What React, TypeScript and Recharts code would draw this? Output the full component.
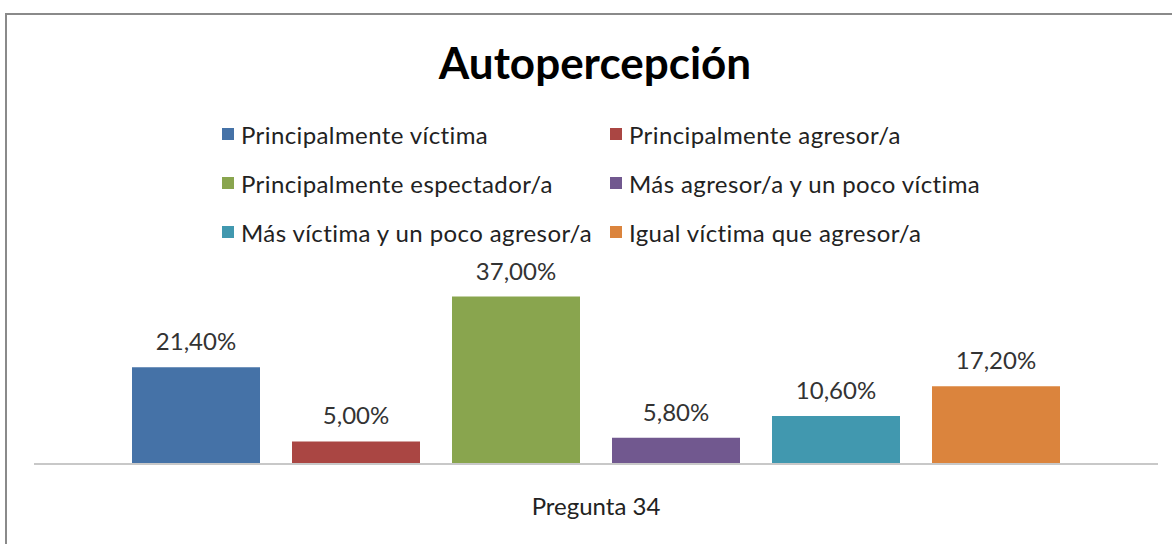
import React from 'react';
import { BarChart, Bar, XAxis, YAxis, Legend, LabelList } from 'recharts';

const categories = ['Pregunta 34'];

const seriesNames = [
  'Principalmente víctima',
  'Principalmente agresor/a',
  'Principalmente espectador/a',
  'Más agresor/a y un poco víctima',
  'Más víctima y un poco agresor/a',
  'Igual víctima que agresor/a',
];

const seriesValues = [21.4, 5.0, 37.0, 5.8, 10.6, 17.2];

const seriesColors = ['#4572A7', '#AA4643', '#89A54E', '#71588F', '#4198AF', '#DB843D'];

const FONT = 'Lato, "Open Sans", sans-serif';

// one row per category, one key per series
const data = categories.map((name) => {
  const row: Record<string, string | number> = { name };
  seriesValues.forEach((v, i) => {
    row[`s${i}`] = v;
  });
  return row;
});

const formatPct = (v: any) => `${Number(v).toFixed(2).replace('.', ',')}%`;

const LegendGrid = () => (
  <div
    style={{
      display: 'grid',
      gridTemplateColumns: '388px 400px',
      rowGap: 25,
      marginLeft: 222,
      fontFamily: FONT,
      fontSize: 24,
      letterSpacing: 0.4,
      color: '#222',
    }}
  >
    {seriesNames.map((n, i) => (
      <div key={n} style={{ display: 'flex', alignItems: 'center', height: 24, whiteSpace: 'nowrap' }}>
        <span style={{ width: 12, height: 12, background: seriesColors[i], marginRight: 7, display: 'inline-block' }} />
        <span>{n}</span>
      </div>
    ))}
  </div>
);

export default function App() {
  return (
    <div style={{ position: 'fixed', left: 0, top: 0, width: 1172, height: 544, overflow: 'hidden', background: '#fff' }}>
      <div
        style={{
          position: 'absolute',
          left: 5,
          top: 13,
          width: 1200,
          height: 600,
          border: '2px solid #8a8a8a',
        }}
      />
      <div
        style={{
          position: 'absolute',
          top: 36,
          left: 0,
          width: 1190,
          textAlign: 'center',
          fontFamily: FONT,
          fontWeight: 'bold',
          fontSize: 44,
          color: '#000',
        }}
      >
        Autopercepción
      </div>
      <div style={{ position: 'absolute', left: 0, top: 0 }}>
        <BarChart
          width={1172}
          height={544}
          data={data}
          margin={{ top: 283, right: 14, bottom: 26, left: 34 }}
          barSize={128}
          barGap={32}
        >
          <XAxis
            dataKey="name"
            axisLine={{ stroke: '#c8c8c8', strokeWidth: 2 }}
            tickLine={false}
            height={54}
            tick={{ fontSize: 24, fill: '#222', fontFamily: FONT }}
            tickMargin={28}
          />
          <YAxis hide domain={[0, 40]} />
          <Legend
            layout="horizontal"
            verticalAlign="middle"
            align="center"
            wrapperStyle={{ top: 122, left: 0, width: 1172 }}
            content={<LegendGrid />}
          />
          {seriesNames.map((n, i) => (
            <Bar key={n} dataKey={`s${i}`} name={n} fill={seriesColors[i]} isAnimationActive={false}>
              <LabelList
                dataKey={`s${i}`}
                position="top"
                offset={17}
                formatter={formatPct}
                style={{ fontSize: 24, fill: '#333', fontFamily: FONT }}
              />
            </Bar>
          ))}
        </BarChart>
      </div>
    </div>
  );
}
